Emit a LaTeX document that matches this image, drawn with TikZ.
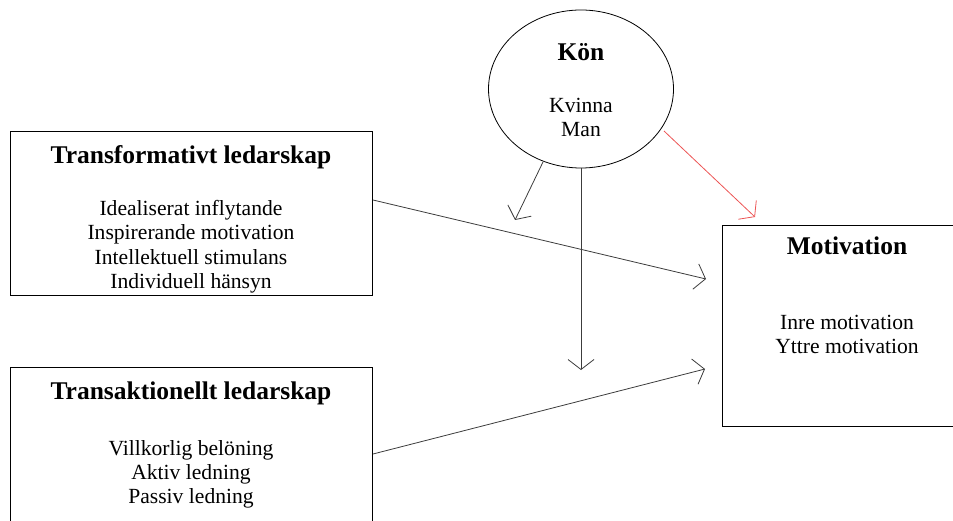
\documentclass[tikz,border=0pt]{standalone}
\usepackage{fontspec}
\setmainfont{Liberation Serif}
\usetikzlibrary{arrows.meta,shapes.geometric}
\definecolor{redarrow}{RGB}{236,84,84}
\definecolor{arrowgray}{RGB}{60,60,60}
\begin{document}
\begin{tikzpicture}[x=1pt,y=-1pt,
  boxnode/.style={draw=black,line width=0.9pt,rectangle,inner sep=0pt,anchor=north west},
  titletext/.style={font=\fontsize{25.5}{29}\selectfont\bfseries,inner sep=0pt},
  bodytext/.style={font=\fontsize{21.6}{24.4}\selectfont,align=center,inner sep=0pt,anchor=north},
  conn/.style={draw=arrowgray,line width=0.8pt,-{Straight Barb[length=10pt,width=26pt,line width=0.8pt]}},
  redconn/.style={conn,draw=redarrow}]
\useasboundingbox (0,0) rectangle (953,521);
\clip (0,0) rectangle (953,521);
% boxes
\node[boxnode,minimum width=362pt,minimum height=164pt] (tf) at (10,131) {};
\node[boxnode,minimum width=362pt,minimum height=170pt] (ta) at (10,367) {};
\node[boxnode,minimum width=240pt,minimum height=201pt] (mo) at (722,225) {};
\node[draw=black,line width=0.8pt,ellipse,minimum width=185pt,minimum height=158pt,inner sep=0pt] (kon) at (581,89) {};
% texts
\node[titletext] (tft) at (191,157) {Transformativt ledarskap};
\node[bodytext] (tfb) at (191,200) {Idealiserat inflytande\\Inspirerande motivation\\Intellektuell stimulans\\Individuell hänsyn};
\node[titletext] (tat) at (191,393) {Transaktionellt ledarskap};
\node[bodytext] (tab) at (191,440) {Villkorlig belöning\\Aktiv ledning\\Passiv ledning};
\node[titletext] (mot) at (847,246) {Motivation};
\node[bodytext] (mob) at (847,315) {Inre motivation\\Yttre motivation};
\node[titletext] (kont) at (581,52) {Kön};
\node[bodytext] (konb) at (581,98) {Kvinna\\Man};
% connector end points
\coordinate (a1s) at (373,200);
\coordinate (a1e) at (706,279);
\coordinate (a2s) at (373,454);
\coordinate (a2e) at (705,369);
\coordinate (k1s) at (543,162);
\coordinate (k1e) at (515,220);
\coordinate (k2s) at (581,168);
\coordinate (k2e) at (581,370);
\coordinate (k3s) at (664,131);
\coordinate (k3e) at (755,217);
% connectors
\draw[conn] (a1s) -- (a1e);
\draw[conn] (a2s) -- (a2e);
\draw[conn] (k1s) -- (k1e);
\draw[conn] (k2s) -- (k2e);
\draw[redconn] (k3s) -- (k3e);
\end{tikzpicture}
\end{document}
